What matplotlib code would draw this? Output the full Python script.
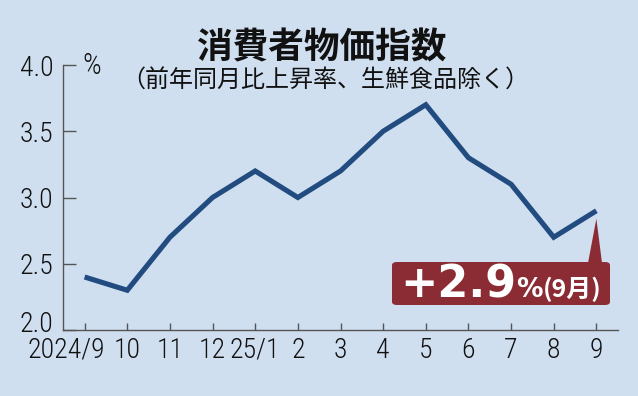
import matplotlib
matplotlib.use("Agg")
import matplotlib.pyplot as plt
from matplotlib.patches import FancyBboxPatch, Polygon
from matplotlib.transforms import ScaledTranslation

months = ["2024/9", "10", "11", "12", "25/1", "2", "3", "4", "5", "6", "7", "8", "9"]
values = [2.4, 2.3, 2.7, 3.0, 3.2, 3.0, 3.2, 3.5, 3.7, 3.3, 3.1, 2.7, 2.9]
yticks = [2.0, 2.5, 3.0, 3.5, 4.0]
ytick_labels = ["2.0", "2.5", "3.0", "3.5", "4.0"]
title = "消費者物価指数"
subtitle = "（前年同月比上昇率、生鮮食品除く）"
badge_main = "+2.9"
badge_pct = "%"
badge_sub = "(9月)"

bg = "#d0dff0"
line_c = "#224c80"
red = "#8b2c35"
narrow = ["Liberation Sans Narrow", "Roboto Condensed", "Archivo Narrow", "Liberation Sans", "DejaVu Sans"]
cjk = ["Noto Sans CJK JP", "DejaVu Sans"]

fig = plt.figure(figsize=(6.38, 3.96), dpi=100, facecolor=bg)
ax = fig.add_axes([63.3/638, 66/396, (617.7-63.3)/638, (330-65)/396])
ax.set_facecolor(bg)
x = list(range(len(months)))
ax.plot(x, values, color=line_c, lw=3.7, solid_joinstyle="miter", solid_capstyle="butt", zorder=3)
ax.set_xlim(-0.5, len(months) - 0.5)
ax.set_ylim(2.0, 4.0)
for s in ["top", "right"]:
    ax.spines[s].set_visible(False)
for s in ["left", "bottom"]:
    ax.spines[s].set_color("#555555")
    ax.spines[s].set_linewidth(1.0)
ax.set_yticks(yticks)
ax.set_yticklabels(ytick_labels, family=narrow, fontsize=20, fontweight="light", color="#111111")
ax.set_xticks(x)
ax.set_xticklabels(months, family=narrow, fontsize=20, fontweight="light", color="#111111")
ax.tick_params(axis="y", direction="in", length=9.5, width=1.0, color="#555555", pad=7)
ax.tick_params(axis="x", direction="in", length=5, width=1.0, color="#555555", pad=5)
first = ax.get_xticklabels()[0]
first.set_transform(first.get_transform() + ScaledTranslation(-18/100, 0, fig.dpi_scale_trans))
ylow = ax.get_yticklabels()[0]
ylow.set_transform(ylow.get_transform() + ScaledTranslation(0, 9/100, fig.dpi_scale_trans))

def fx(px): return px/638
def fy(py): return 1 - py/396

fig.text(fx(92), fy(66), "%", family=narrow, fontsize=21, fontweight="light", color="#111111", ha="center", va="center")
fig.text(fx(322), fy(48), title, family=cjk, fontsize=25.7, fontweight="bold", color="#111111", ha="center", va="center")
fig.text(fx(325), fy(81), subtitle, family=cjk, fontsize=17.3, color="#111111", ha="center", va="center")

box = FancyBboxPatch((fx(392), fy(305)), fx(610)-fx(392), fy(262)-fy(305),
                     boxstyle="round,pad=0,rounding_size=0.008", transform=fig.transFigure,
                     facecolor=red, edgecolor="none", zorder=5)
fig.patches.append(box)
tip_disp = ax.transData.transform((x[-1], values[-1] - 0.06))
tip_fig = fig.transFigure.inverted().transform(tip_disp)
tri = Polygon([(fx(588), fy(263)), (tip_fig[0], tip_fig[1]), (fx(602), fy(263))], closed=True,
              transform=fig.transFigure, facecolor=red, edgecolor="none", zorder=5)
fig.patches.append(tri)

t1 = fig.text(fx(400), fy(297), badge_main, family=["DejaVu Sans"], fontsize=32,
              fontweight="bold", color="white", ha="left", va="baseline", zorder=6)
fig.canvas.draw()
inv = fig.transFigure.inverted()
end1 = inv.transform((t1.get_window_extent().x1, 0))[0]
t2 = fig.text(end1 + 0/638, fy(297), badge_pct, family=["DejaVu Sans"], fontsize=19,
              fontweight="bold", color="white", ha="left", va="baseline", zorder=6)
fig.canvas.draw()
end2 = inv.transform((t2.get_window_extent().x1, 0))[0]
fig.text(end2 + 0/638, fy(297), badge_sub, family=cjk, fontsize=18,
         fontweight="bold", color="white", ha="left", va="baseline", zorder=6)

fig.savefig("out.png", dpi=100, facecolor=bg)
